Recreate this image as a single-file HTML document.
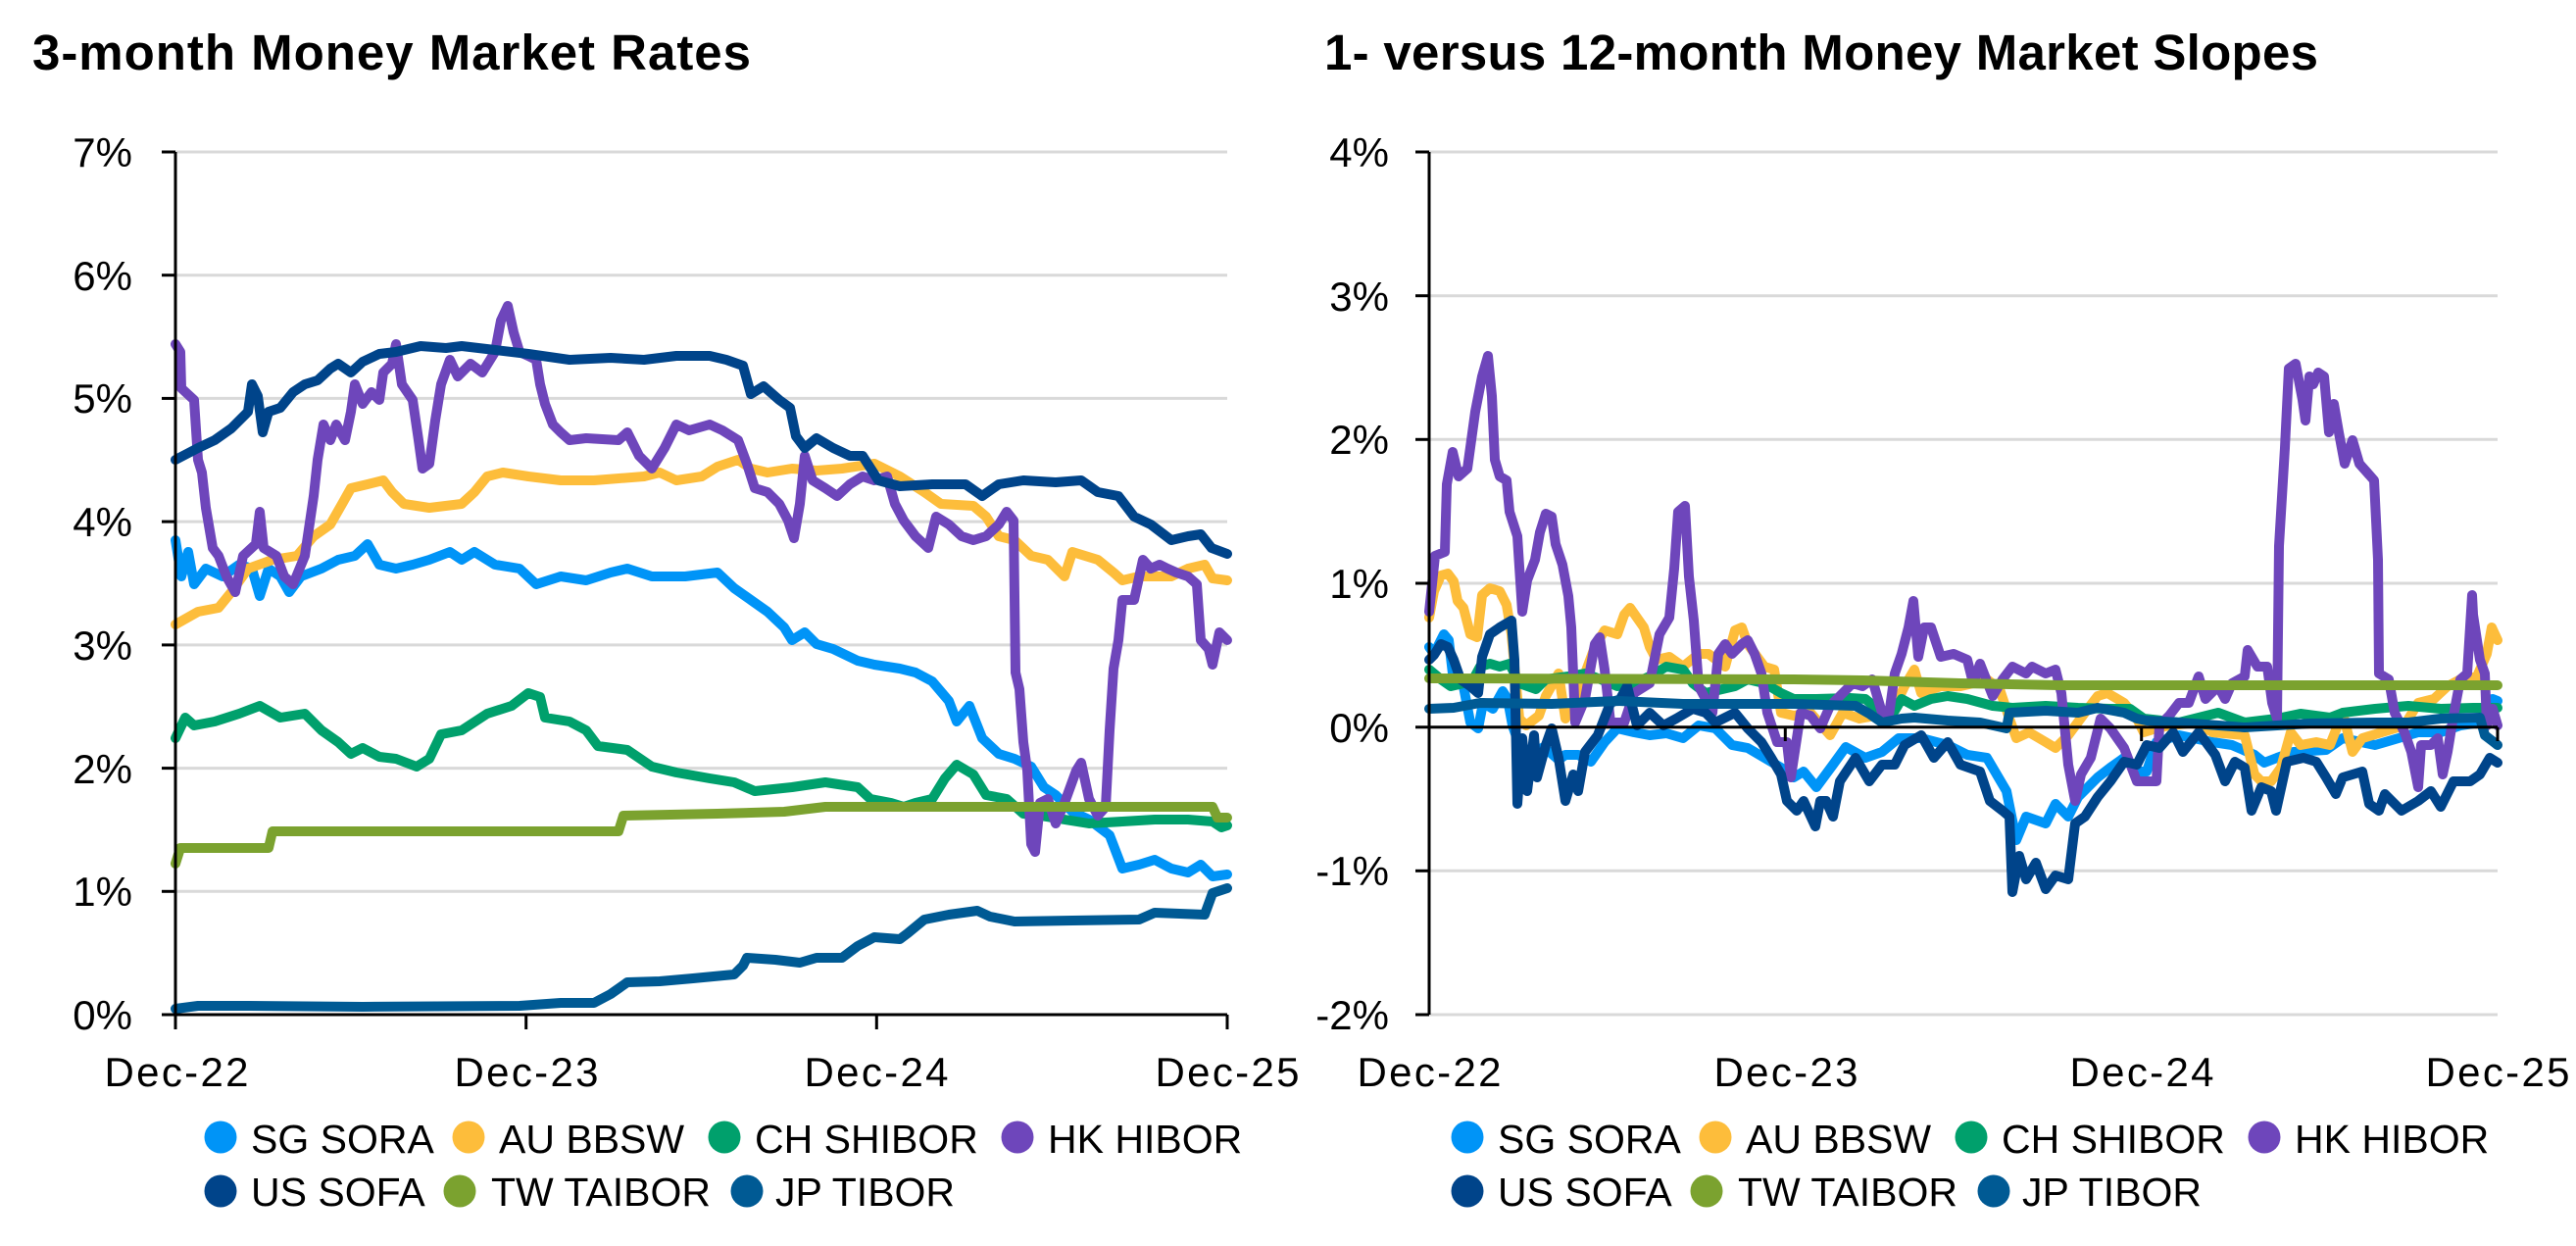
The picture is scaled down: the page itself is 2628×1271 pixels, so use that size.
<!DOCTYPE html>
<html><head><meta charset="utf-8"><style>
html,body{margin:0;padding:0;background:#fff;}
svg{display:block;}
text{font-family:"Liberation Sans",Arial,sans-serif;fill:#000;}
.t{font-size:51px;font-weight:bold;}
.yl{font-size:42px;text-anchor:end;}
.xl{font-size:42px;text-anchor:middle;}
.lg{font-size:41px;}
.s{fill:none;stroke-width:10;stroke-linejoin:round;stroke-linecap:round;}
.g{stroke:#d9d9d9;stroke-width:3;}
.a{stroke:#000;stroke-width:3;fill:none;}
</style></head><body>
<svg width="2628" height="1271" viewBox="0 0 2628 1271" xmlns="http://www.w3.org/2000/svg">
<rect width="2628" height="1271" fill="#fff"/>
<text class="t" x="33" y="71" textLength="733" lengthAdjust="spacing">3-month Money Market Rates</text>
<text class="t" x="1351" y="71" textLength="1014" lengthAdjust="spacing">1- versus 12-month Money Market Slopes</text>

<!-- LEFT grid -->
<g class="g">
<line x1="179" y1="155" x2="1252" y2="155"/>
<line x1="179" y1="280.7" x2="1252" y2="280.7"/>
<line x1="179" y1="406.4" x2="1252" y2="406.4"/>
<line x1="179" y1="532.1" x2="1252" y2="532.1"/>
<line x1="179" y1="657.9" x2="1252" y2="657.9"/>
<line x1="179" y1="783.6" x2="1252" y2="783.6"/>
<line x1="179" y1="909.3" x2="1252" y2="909.3"/>
</g>
<!-- RIGHT grid -->
<g class="g">
<line x1="1458" y1="155" x2="2548" y2="155"/>
<line x1="1458" y1="301.7" x2="2548" y2="301.7"/>
<line x1="1458" y1="448.3" x2="2548" y2="448.3"/>
<line x1="1458" y1="595" x2="2548" y2="595"/>
<line x1="1458" y1="888.3" x2="2548" y2="888.3"/>
<line x1="1458" y1="1035" x2="2548" y2="1035"/>
</g>

<!-- LEFT labels -->
<text class="yl" x="135" y="170">7%</text>
<text class="yl" x="135" y="296">6%</text>
<text class="yl" x="135" y="421">5%</text>
<text class="yl" x="135" y="547">4%</text>
<text class="yl" x="135" y="673">3%</text>
<text class="yl" x="135" y="799">2%</text>
<text class="yl" x="135" y="924">1%</text>
<text class="yl" x="135" y="1050">0%</text>
<text class="xl" x="180" y="1108" textLength="147" lengthAdjust="spacing">Dec-22</text>
<text class="xl" x="537" y="1108" textLength="147" lengthAdjust="spacing">Dec-23</text>
<text class="xl" x="894" y="1108" textLength="147" lengthAdjust="spacing">Dec-24</text>
<text class="xl" x="1252" y="1108" textLength="147" lengthAdjust="spacing">Dec-25</text>

<!-- RIGHT labels -->
<text class="yl" x="1417" y="170">4%</text>
<text class="yl" x="1417" y="317">3%</text>
<text class="yl" x="1417" y="463">2%</text>
<text class="yl" x="1417" y="610">1%</text>
<text class="yl" x="1417" y="757">0%</text>
<text class="yl" x="1417" y="903">-1%</text>
<text class="yl" x="1417" y="1050">-2%</text>
<text class="xl" x="1458" y="1108" textLength="147" lengthAdjust="spacing">Dec-22</text>
<text class="xl" x="1822" y="1108" textLength="147" lengthAdjust="spacing">Dec-23</text>
<text class="xl" x="2185" y="1108" textLength="147" lengthAdjust="spacing">Dec-24</text>
<text class="xl" x="2548" y="1108" textLength="147" lengthAdjust="spacing">Dec-25</text>

<!-- LEFT series -->
<polyline class="s" stroke="#0094f7" points="179,551 185,588 192,563 198,596 210,580 227,588 244,576 257,580 265,608 274,580 286,588 295,604 307,588 328,580 345,571 362,567 375,555 387,576 404,580 421,576 438,571 459,563 471,571 484,563 505,576 530,580 547,596 572,588 598,592 623,584 640,580 665,588 699,588 732,584 749,600 766,612 783,624 800,640 808,653 821,645 833,657 850,662 875,674 892,678 918,682 934,686 951,695 968,715 976,736 989,720 1002,753 1019,769 1035,774 1052,782 1065,803 1077,811 1094,828 1111,836 1132,852 1145,886 1162,882 1178,877 1195,886 1212,890 1225,882 1237,894 1252,892"/>
<polyline class="s" stroke="#fdbd3b" points="179,637 202,624 223,620 236,604 253,580 278,571 303,567 320,547 337,535 349,514 358,498 375,494 391,490 400,502 412,514 438,518 471,514 484,502 497,486 513,482 539,486 572,490 606,490 657,486 673,482 690,490 716,486 732,476 753,469 766,478 783,482 808,478 833,480 859,478 892,473 918,486 943,502 960,514 993,516 1006,527 1019,547 1035,551 1052,567 1069,571 1086,588 1094,563 1120,571 1136,584 1145,592 1162,588 1195,588 1212,580 1229,576 1237,590 1252,592"/>
<polyline class="s" stroke="#00a06c" points="179,753 189,732 198,740 219,736 244,728 265,720 286,732 311,728 328,745 345,757 358,769 370,763 387,772 404,774 425,782 438,774 450,749 471,745 497,728 522,720 539,707 551,711 556,732 581,736 598,745 610,761 640,765 665,782 690,788 724,794 749,798 770,807 808,803 842,798 875,803 888,815 909,819 922,823 934,819 951,815 964,794 976,780 993,790 1006,811 1027,815 1044,830 1061,832 1086,836 1111,840 1145,838 1178,836 1212,836 1237,838 1246,844 1252,842"/>
<polyline class="s" stroke="#6e46bb" points="179,351 184,359 185,396 198,408 202,469 206,482 210,518 217,559 223,567 231,588 240,604 248,567 261,555 265,522 269,559 282,567 290,588 299,596 311,567 320,506 324,469 330,433 337,449 343,433 352,449 358,420 362,392 370,412 379,400 387,408 391,380 400,371 404,351 410,392 421,408 427,449 431,478 438,473 444,429 450,392 459,367 467,384 480,371 492,380 505,359 511,327 518,312 524,339 530,359 539,363 547,367 551,392 556,412 564,433 572,441 581,449 598,447 631,449 640,441 652,465 665,478 678,457 690,433 703,439 724,433 737,439 753,449 762,473 770,498 783,502 795,514 804,531 810,549 816,514 821,465 829,490 842,498 854,506 867,494 880,486 892,490 905,486 913,514 922,531 934,547 947,559 955,527 968,535 981,547 993,551 1006,547 1019,535 1027,522 1034,531 1036,686 1040,703 1044,757 1048,786 1052,861 1056,869 1061,819 1069,815 1077,840 1086,819 1098,786 1103,778 1111,815 1120,832 1128,823 1132,745 1136,682 1141,653 1145,612 1157,612 1166,571 1174,580 1183,576 1191,580 1200,584 1212,588 1221,596 1225,653 1233,662 1237,678 1244,645 1252,653"/>
<polyline class="s" stroke="#00448a" points="179,469 202,457 219,449 236,437 253,420 257,392 263,404 268,441 274,420 286,416 299,400 311,392 324,388 337,376 345,371 358,380 370,369 387,361 404,359 429,353 455,355 471,353 505,357 539,361 581,367 623,365 657,367 690,363 724,363 741,367 758,373 766,402 779,394 795,408 806,416 812,445 821,457 833,447 850,457 867,465 880,465 896,490 918,496 951,494 985,494 1002,506 1019,494 1044,490 1077,492 1103,490 1120,502 1141,506 1157,527 1174,535 1195,551 1212,547 1225,545 1236,559 1252,565"/>
<polyline class="s" stroke="#7ba22f" points="179,881 184,865 274,865 278,848 631,848 636,832 732,830 800,828 842,823 1010,823 1237,823 1242,834 1252,834"/>
<polyline class="s" stroke="#005a94" points="179,1029 202,1026 253,1026 370,1027 530,1026 572,1023 606,1023 623,1014 640,1002 673,1001 707,998 749,994 758,985 762,977 791,979 816,982 833,977 859,977 875,965 892,956 918,958 926,952 943,938 968,933 997,929 1010,935 1035,940 1094,939 1162,938 1178,931 1229,933 1237,911 1252,906"/>

<!-- RIGHT series -->
<polyline class="s" stroke="#0094f7" points="1458,660 1463,667 1473,647 1478,653 1482,687 1487,693 1493,700 1500,737 1508,743 1513,717 1523,723 1533,705 1538,713 1543,740 1550,760 1560,770 1575,762 1590,775 1597,770 1610,770 1623,777 1637,757 1650,743 1667,747 1683,750 1700,748 1717,753 1733,740 1750,743 1767,760 1783,763 1800,773 1817,783 1830,793 1840,787 1853,803 1870,780 1883,762 1903,773 1920,767 1937,753 1960,753 1987,760 2007,770 2027,773 2047,807 2057,857 2067,833 2087,840 2097,820 2110,833 2120,813 2140,793 2153,783 2167,773 2180,787 2190,787 2200,757 2223,750 2257,757 2277,760 2300,770 2310,778 2323,773 2340,767 2373,765 2390,753 2423,760 2447,753 2467,747 2490,747 2510,740 2530,737 2543,713 2548,715"/>
<polyline class="s" stroke="#fdbd3b" points="1458,630 1463,603 1470,587 1477,585 1483,593 1487,613 1493,620 1500,647 1507,650 1512,607 1520,600 1530,603 1537,617 1542,647 1550,733 1557,740 1570,730 1577,710 1590,687 1597,733 1607,713 1617,687 1627,660 1637,643 1650,647 1657,627 1663,620 1677,640 1683,660 1690,673 1703,670 1717,680 1733,667 1743,667 1760,680 1770,643 1777,640 1783,657 1800,680 1810,683 1817,727 1830,730 1847,727 1867,750 1880,727 1897,733 1913,730 1930,727 1943,700 1953,683 1960,707 1980,700 2000,700 2013,697 2027,693 2040,703 2050,733 2057,753 2070,747 2087,757 2097,763 2110,750 2127,727 2140,710 2150,707 2167,717 2180,733 2187,747 2200,743 2213,740 2240,737 2257,747 2290,750 2300,790 2307,797 2317,797 2327,783 2337,747 2347,760 2363,757 2377,760 2390,727 2400,767 2410,753 2430,747 2453,740 2467,717 2483,713 2497,700 2510,693 2527,690 2537,667 2542,640 2548,653"/>
<polyline class="s" stroke="#00a06c" points="1458,683 1470,693 1480,700 1493,697 1503,693 1510,680 1520,677 1530,680 1540,677 1550,697 1567,703 1577,693 1600,690 1617,687 1633,693 1650,700 1667,697 1683,690 1700,680 1717,683 1727,697 1740,707 1757,703 1770,700 1783,693 1800,697 1817,707 1830,713 1853,713 1887,712 1903,713 1920,727 1933,725 1940,713 1953,720 1970,713 1987,710 2007,713 2033,720 2053,722 2087,720 2120,722 2153,723 2173,723 2187,733 2223,737 2263,727 2290,737 2323,733 2347,728 2377,732 2390,727 2423,723 2457,720 2490,723 2523,722 2548,722"/>
<polyline class="s" stroke="#6e46bb" points="1458,624 1464,567 1474,563 1476,494 1482,461 1488,486 1497,478 1505,420 1512,384 1518,363 1522,404 1525,469 1530,486 1537,490 1540,522 1548,547 1553,624 1558,592 1566,571 1571,543 1577,524 1583,527 1587,555 1594,576 1600,608 1603,640 1607,737 1617,713 1627,657 1632,650 1637,683 1643,737 1657,737 1667,707 1683,697 1693,647 1703,630 1708,580 1712,522 1719,516 1723,588 1728,633 1733,700 1740,713 1747,727 1753,667 1760,657 1767,667 1777,657 1783,653 1790,667 1797,687 1803,727 1813,757 1823,757 1827,793 1837,727 1847,730 1857,743 1867,720 1880,707 1890,697 1900,700 1910,693 1920,727 1927,730 1933,687 1940,667 1947,640 1952,613 1957,670 1963,640 1970,640 1980,670 1993,667 2007,673 2013,697 2020,677 2033,710 2043,693 2053,680 2067,687 2073,680 2087,687 2097,683 2103,707 2110,780 2117,817 2123,790 2133,773 2143,733 2153,743 2167,763 2180,797 2200,797 2203,740 2213,730 2223,717 2233,717 2243,690 2250,713 2263,700 2270,713 2277,697 2290,690 2293,663 2303,680 2313,680 2318,717 2323,733 2325,557 2331,457 2335,376 2342,371 2349,408 2352,429 2356,384 2360,392 2365,380 2371,384 2376,441 2381,412 2386,441 2392,473 2400,449 2407,473 2415,482 2422,490 2426,571 2427,687 2437,693 2443,727 2453,747 2460,767 2467,803 2470,760 2480,760 2487,753 2492,790 2497,767 2503,730 2510,693 2517,687 2522,607 2523,627 2530,673 2535,687 2537,740 2543,723 2548,740"/>
<polyline class="s" stroke="#00448a" points="1458,673 1463,668 1470,657 1477,660 1483,673 1490,693 1500,700 1508,707 1512,670 1520,647 1530,640 1542,633 1545,673 1548,820 1553,753 1558,807 1565,750 1568,793 1577,760 1583,743 1590,773 1597,817 1605,790 1610,807 1617,767 1630,750 1643,717 1653,713 1660,700 1670,740 1683,727 1697,740 1710,733 1727,723 1740,727 1750,737 1770,727 1783,743 1797,757 1807,773 1817,790 1823,817 1833,827 1840,817 1852,843 1857,817 1863,817 1870,833 1877,797 1893,773 1907,797 1920,780 1933,780 1943,760 1960,750 1973,773 1987,757 2000,780 2020,787 2030,817 2043,827 2050,833 2053,910 2060,873 2067,897 2077,880 2087,907 2097,893 2110,897 2117,840 2127,833 2140,813 2153,797 2167,777 2180,780 2190,760 2203,763 2217,747 2227,767 2243,747 2260,770 2270,797 2280,777 2290,783 2297,827 2307,803 2317,807 2322,827 2333,777 2350,773 2363,777 2373,793 2383,810 2390,793 2410,787 2417,820 2427,827 2433,810 2450,827 2467,817 2480,807 2490,823 2503,797 2520,797 2530,790 2540,773 2548,778"/>
<polyline class="s" stroke="#7ba22f" points="1458,692 1830,693 1900,694 2000,697 2100,699 2200,699 2548,699"/>
<polyline class="s" stroke="#005a94" points="1458,723 1483,722 1510,717 1583,718 1650,715 1717,718 1830,718 1893,720 1907,728 1920,737 1940,733 1953,732 1987,735 2020,737 2047,743 2050,727 2087,725 2120,727 2140,722 2167,727 2180,733 2190,735 2223,737 2290,742 2323,740 2357,738 2423,737 2457,737 2490,733 2530,732 2535,750 2548,760"/>

<!-- AXES -->
<line class="a" x1="179" y1="155" x2="179" y2="1050"/>
<line class="a" x1="165" y1="1035" x2="1252" y2="1035"/>
<g class="a">
<line x1="165" y1="155" x2="179" y2="155"/>
<line x1="165" y1="280.7" x2="179" y2="280.7"/>
<line x1="165" y1="406.4" x2="179" y2="406.4"/>
<line x1="165" y1="532.1" x2="179" y2="532.1"/>
<line x1="165" y1="657.9" x2="179" y2="657.9"/>
<line x1="165" y1="783.6" x2="179" y2="783.6"/>
<line x1="165" y1="909.3" x2="179" y2="909.3"/>
<line x1="536.7" y1="1035" x2="536.7" y2="1050"/>
<line x1="894.3" y1="1035" x2="894.3" y2="1050"/>
<line x1="1252" y1="1035" x2="1252" y2="1050"/>
</g>
<line class="a" x1="1458" y1="155" x2="1458" y2="1035"/>
<line class="a" x1="1444" y1="741.7" x2="2548" y2="741.7"/>
<g class="a">
<line x1="1444" y1="155" x2="1458" y2="155"/>
<line x1="1444" y1="301.7" x2="1458" y2="301.7"/>
<line x1="1444" y1="448.3" x2="1458" y2="448.3"/>
<line x1="1444" y1="595" x2="1458" y2="595"/>
<line x1="1444" y1="888.3" x2="1458" y2="888.3"/>
<line x1="1444" y1="1035" x2="1458" y2="1035"/>
<line x1="1458" y1="741.7" x2="1458" y2="756"/>
<line x1="1821.3" y1="741.7" x2="1821.3" y2="756"/>
<line x1="2184.7" y1="741.7" x2="2184.7" y2="756"/>
<line x1="2548" y1="741.7" x2="2548" y2="756"/>
</g>

<!-- LEFT legend -->
<circle cx="225" cy="1160" r="16.5" fill="#0094f7"/><text class="lg" x="256" y="1176">SG SORA</text>
<circle cx="478" cy="1160" r="16.5" fill="#fdbd3b"/><text class="lg" x="509" y="1176">AU BBSW</text>
<circle cx="739" cy="1160" r="16.5" fill="#00a06c"/><text class="lg" x="770" y="1176">CH SHIBOR</text>
<circle cx="1038" cy="1160" r="16.5" fill="#6e46bb"/><text class="lg" x="1069" y="1176">HK HIBOR</text>
<circle cx="225" cy="1215" r="16.5" fill="#00448a"/><text class="lg" x="256" y="1230">US SOFA</text>
<circle cx="469" cy="1215" r="16.5" fill="#7ba22f"/><text class="lg" x="501" y="1230">TW TAIBOR</text>
<circle cx="762" cy="1215" r="16.5" fill="#005a94"/><text class="lg" x="791" y="1230">JP TIBOR</text>

<!-- RIGHT legend -->
<circle cx="1497" cy="1160" r="16.5" fill="#0094f7"/><text class="lg" x="1528" y="1176">SG SORA</text>
<circle cx="1750" cy="1160" r="16.5" fill="#fdbd3b"/><text class="lg" x="1781" y="1176">AU BBSW</text>
<circle cx="2011" cy="1160" r="16.5" fill="#00a06c"/><text class="lg" x="2042" y="1176">CH SHIBOR</text>
<circle cx="2310" cy="1160" r="16.5" fill="#6e46bb"/><text class="lg" x="2341" y="1176">HK HIBOR</text>
<circle cx="1497" cy="1215" r="16.5" fill="#00448a"/><text class="lg" x="1528" y="1230">US SOFA</text>
<circle cx="1741" cy="1215" r="16.5" fill="#7ba22f"/><text class="lg" x="1773" y="1230">TW TAIBOR</text>
<circle cx="2034" cy="1215" r="16.5" fill="#005a94"/><text class="lg" x="2063" y="1230">JP TIBOR</text>
</svg>
</body></html>
